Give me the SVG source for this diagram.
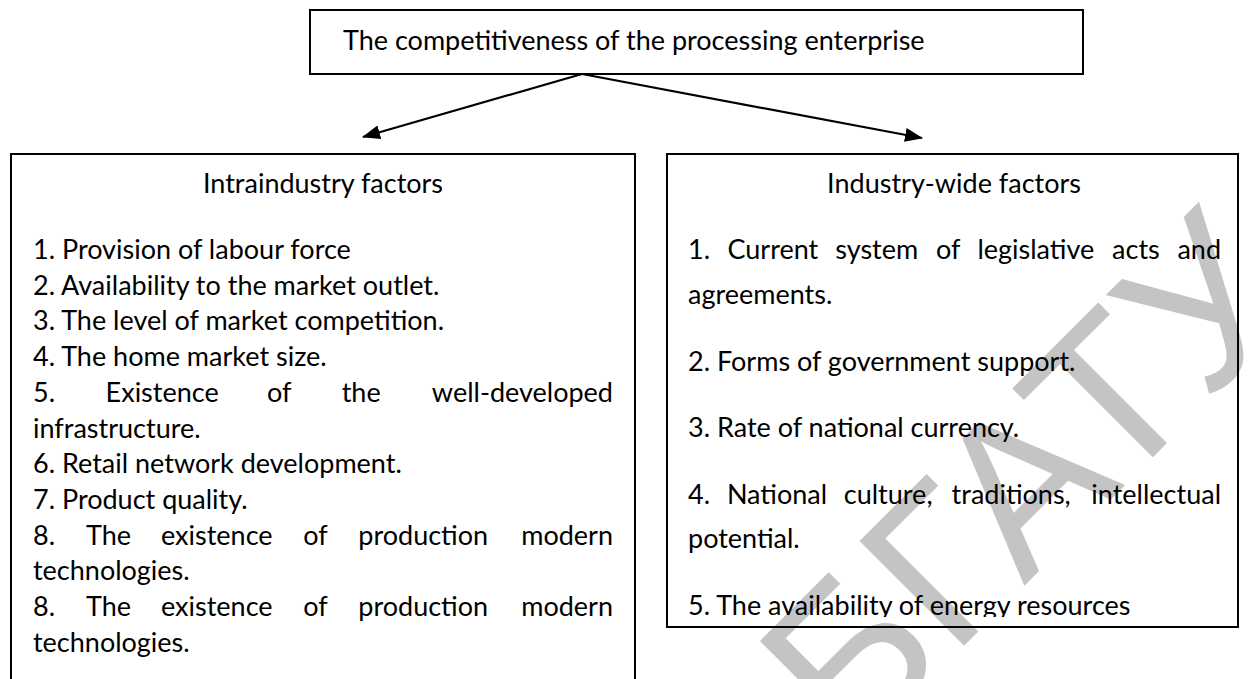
<svg xmlns="http://www.w3.org/2000/svg" width="1248" height="679" viewBox="0 0 1248 679">
<style>
.box{fill:none;stroke:#000;stroke-width:2}
.t{font-family:Lato,"Liberation Sans",sans-serif;font-size:27px;fill:#000}
.c{text-anchor:middle}
.e{text-anchor:end}
.wm{font-family:"Liberation Sans",Arial,sans-serif;font-size:215px;fill:#c4c4c4}
.conn{stroke:#000;stroke-width:2.2;fill:none}
</style>
<defs>
<marker id="ah" markerUnits="userSpaceOnUse" markerWidth="20" markerHeight="16" refX="17" refY="7" orient="auto">
<path d="M0,0 L18,7 L0,14 Z" fill="#000"/>
</marker>
<clipPath id="rclip"><rect x="667" y="154" width="571" height="463"/></clipPath>
</defs>
<rect width="1248" height="679" fill="#fff"/>
<g id="watermark">
<text class="wm" transform="translate(852,758) rotate(-45)">БГАТУ</text>
</g>
<g id="top-node">
<rect class="box" x="310" y="10" width="773" height="64"/>
<text class="t" x="343" y="50">The competitiveness of the processing enterprise</text>
</g>
<g id="connectors">
<line class="conn" x1="582" y1="74" x2="363" y2="137" marker-end="url(#ah)"/>
<line class="conn" x1="582" y1="74" x2="922" y2="138" marker-end="url(#ah)"/>
</g>
<g id="left-node">
<rect class="box" x="11" y="154" width="624" height="540"/>
<text class="t c" x="323" y="193">Intraindustry factors</text>
<text class="t" x="33" y="259">1. Provision of labour force</text>
<text class="t" x="33" y="295">2. Availability to the market outlet.</text>
<text class="t" x="33" y="330">3. The level of market competition.</text>
<text class="t" x="33" y="366">4. The home market size.</text>
<text class="t" y="402"><tspan x="33">5.</tspan><tspan x="105.6">Existence</tspan><tspan x="267">of</tspan><tspan x="341.7">the</tspan></text>
<text class="t e" x="613" y="402">well-developed</text>
<text class="t" x="33" y="438">infrastructure.</text>
<text class="t" x="33" y="473">6. Retail network development.</text>
<text class="t" x="33" y="509">7. Product quality.</text>
<text class="t" y="545"><tspan x="33">8.</tspan><tspan x="86.1">The</tspan><tspan x="161">existence</tspan><tspan x="303.2">of</tspan><tspan x="358.3">production</tspan></text>
<text class="t e" x="613" y="545">modern</text>
<text class="t" x="33" y="580">technologies.</text>
<text class="t" y="616"><tspan x="33">8.</tspan><tspan x="86.1">The</tspan><tspan x="161">existence</tspan><tspan x="303.2">of</tspan><tspan x="358.3">production</tspan></text>
<text class="t e" x="613" y="616">modern</text>
<text class="t" x="33" y="652">technologies.</text>
</g>
<g id="right-node">
<rect class="box" x="667" y="154" width="571" height="473"/>
<text class="t c" x="954" y="193">Industry-wide factors</text>
<text class="t" y="259"><tspan x="688">1.</tspan><tspan x="727.5">Current</tspan><tspan x="835.3">system</tspan><tspan x="935.9">of</tspan><tspan x="977.4">legislative</tspan><tspan x="1112.1">acts</tspan></text>
<text class="t e" x="1221" y="259">and</text>
<text class="t" x="688" y="304">agreements.</text>
<text class="t" x="688" y="371">2. Forms of government support.</text>
<text class="t" x="688" y="437">3. Rate of national currency.</text>
<text class="t" y="504"><tspan x="688">4.</tspan><tspan x="726.9">National</tspan><tspan x="843.8">culture,</tspan><tspan x="951.6">traditions,</tspan></text>
<text class="t e" x="1221" y="504">intellectual</text>
<text class="t" x="688" y="548">potential.</text>
<text class="t" x="688" y="615" clip-path="url(#rclip)">5. The availability of energy resources</text>
</g>
</svg>
